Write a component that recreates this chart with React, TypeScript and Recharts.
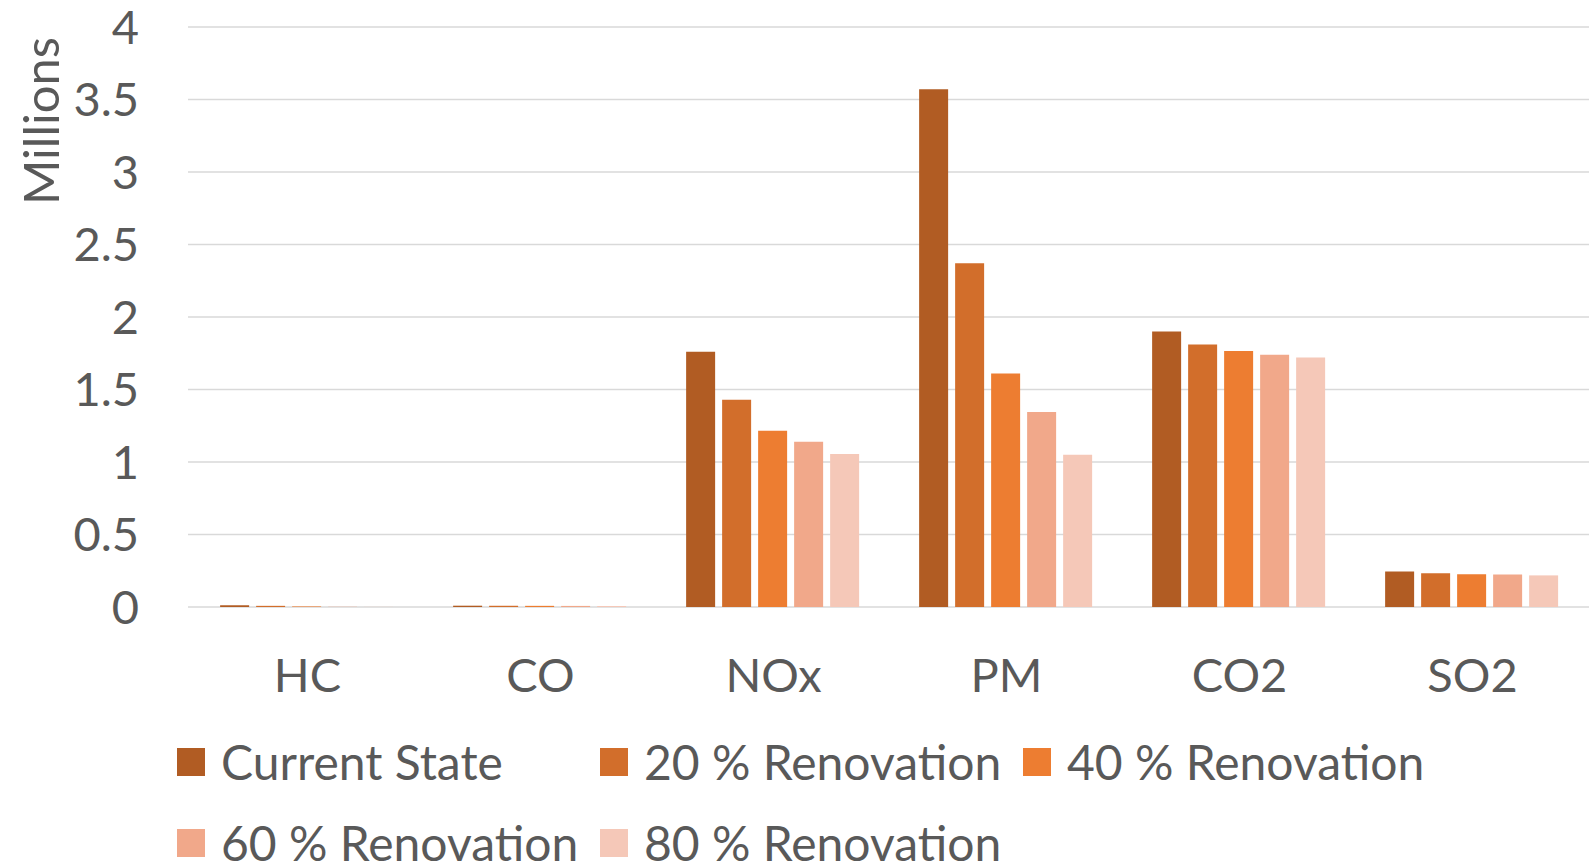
import React from 'react';
import {
  BarChart,
  Bar,
  XAxis,
  YAxis,
  CartesianGrid,
  Legend,
} from 'recharts';

const categories = ['HC', 'CO', 'NOx', 'PM', 'CO2', 'SO2'];

// emissions per scenario (raw units, axis shows millions)
const currentState = [12000, 9000, 1760000, 3570000, 1900000, 245000];
const renovation20 = [8000, 8500, 1430000, 2370000, 1810000, 232000];
const renovation40 = [4000, 8000, 1215000, 1610000, 1765000, 226000];
const renovation60 = [1500, 7500, 1140000, 1345000, 1740000, 224000];
const renovation80 = [800, 7000, 1055000, 1050000, 1720000, 218000];

const yTicks = [0, 500000, 1000000, 1500000, 2000000, 2500000, 3000000, 3500000, 4000000];

const SERIES = [
  { key: 'current', name: 'Current State', values: currentState, color: '#B15C23' },
  { key: 'r20', name: '20 % Renovation', values: renovation20, color: '#D26E2B' },
  { key: 'r40', name: '40 % Renovation', values: renovation40, color: '#ED7D31' },
  { key: 'r60', name: '60 % Renovation', values: renovation60, color: '#F1A88A' },
  { key: 'r80', name: '80 % Renovation', values: renovation80, color: '#F5C8B8' },
];

const data = categories.map((cat, i) => {
  const row: Record<string, string | number> = { category: cat };
  SERIES.forEach((s) => {
    row[s.key] = s.values[i];
  });
  return row;
});

const FONT = 'Lato, "Open Sans", sans-serif';
const TEXT = '#595959';
const FS = 47;

const renderLegend = (props: any) => {
  // keep the series order instead of the alphabetical one
  const order = SERIES.map((s) => s.name);
  const items = [...(props.payload || [])].sort(
    (a: any, b: any) => order.indexOf(a.value) - order.indexOf(b.value)
  );
  return (
    <div
      style={{
        height: 160,
        paddingTop: 18,
        paddingLeft: 177,
        boxSizing: 'border-box',
        display: 'flex',
        flexWrap: 'wrap',
        fontFamily: FONT,
        fontSize: 48,
        color: TEXT,
      }}
    >
      {items.map((entry: any) => (
        <div
          key={entry.value}
          style={{
            width: 423,
            height: 81,
            display: 'flex',
            alignItems: 'center',
          }}
        >
          <span
            style={{
              display: 'inline-block',
              width: 28,
              height: 28,
              background: entry.color,
              marginRight: 16,
            }}
          />
          <span style={{ lineHeight: '48px', whiteSpace: 'nowrap' }}>{entry.value}</span>
        </div>
      ))}
    </div>
  );
};

const MillionsLabel = () => (
  <text
    x={59}
    y={121}
    transform="rotate(-90, 59, 121)"
    textAnchor="middle"
    fill={TEXT}
    fontFamily={FONT}
    fontSize={49}
  >
    Millions
  </text>
);

export default function App() {
  return (
    <div style={{ position: 'absolute', left: 0, top: 0, width: 1589, height: 863, background: '#fff' }}>
      <BarChart
        width={1589}
        height={863}
        data={data}
        margin={{ top: 27, right: 0, left: 0, bottom: 0 }}
        barCategoryGap="12.5%"
        barGap={7}
      >
        <CartesianGrid vertical={false} stroke="#d9d9d9" strokeWidth={1.5} x={188} width={1401} />
        <XAxis
          dataKey="category"
          height={96}
          tickLine={false}
          tickSize={0}
          tickMargin={52}
          axisLine={false}
          tick={{ fill: TEXT, fontSize: FS, fontFamily: FONT }}
        />
        <YAxis
          width={191}
          domain={[0, 4000000]}
          ticks={yTicks}
          interval={0}
          axisLine={false}
          tickLine={false}
          tickSize={0}
          tickMargin={52}
          tickFormatter={(v: number) => `${v / 1000000}`}
          tick={{ fill: TEXT, fontSize: FS, fontFamily: FONT }}
          label={<MillionsLabel />}
        />
        <Legend
          verticalAlign="bottom"
          align="left"
          height={160}
          content={renderLegend}
          wrapperStyle={{ left: 0, width: 1589 }}
        />
        {SERIES.map((s) => (
          <Bar
            key={s.key}
            dataKey={s.key}
            name={s.name}
            fill={s.color}
            isAnimationActive={false}
          />
        ))}
      </BarChart>
    </div>
  );
}
